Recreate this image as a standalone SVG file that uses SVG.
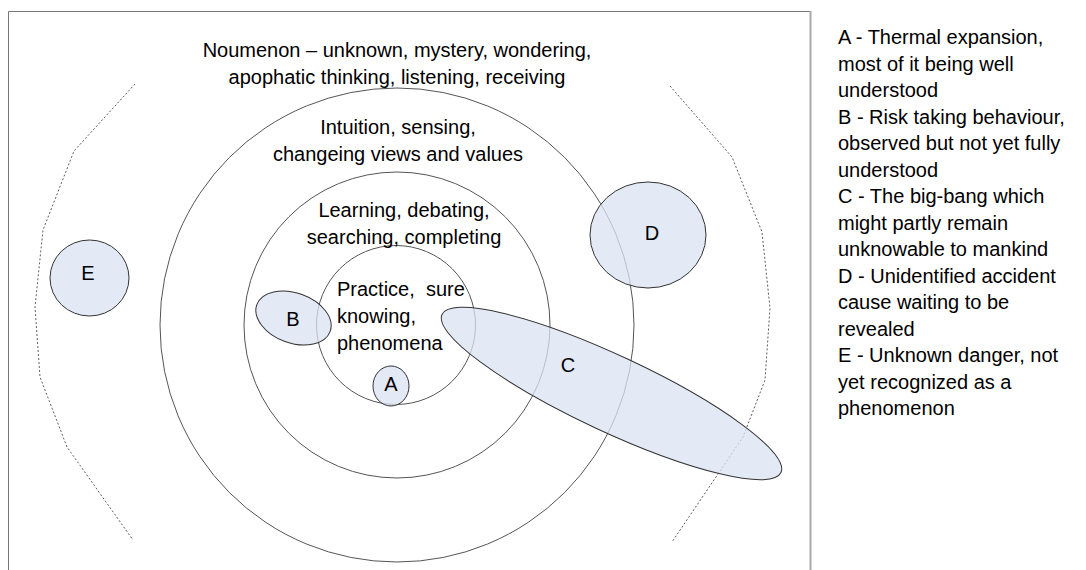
<svg xmlns="http://www.w3.org/2000/svg" width="1086" height="570" viewBox="0 0 1086 570">
<style>
text{font-family:"Liberation Sans",Arial,sans-serif;font-size:20px;fill:#000}
.mid{text-anchor:middle}
.ring{fill:none;stroke:#555;stroke-width:1}
.dash{fill:none;stroke:#333;stroke-width:0.8;stroke-dasharray:2 2}
.blob{fill:#d9e2f2;fill-opacity:0.75;stroke:#333;stroke-width:1}
</style>
<rect width="1086" height="570" fill="#fff"/>
<g id="frame">
<path d="M8.5,570 V11.5 H810" fill="none" stroke="#777" stroke-width="1"/>
<line x1="810.5" y1="11" x2="810.5" y2="570" stroke="#aaa" stroke-width="2"/>
</g>
<g id="rings">
<circle class="ring" cx="397" cy="325" r="237"/>
<circle class="ring" cx="397" cy="325" r="153"/>
<circle class="ring" cx="396" cy="325" r="79.5"/>
</g>
<g id="horizon">
<polyline class="dash" points="135,84 74,151 43,230 35,307 40,377 67,447 133,540"/>
<polyline class="dash" points="670,86 732,157 762,232 770,308 765,380 743,437 672,542"/>
</g>
<g id="zone-labels">
<text class="mid" x="397" y="57">Noumenon – unknown, mystery, wondering,</text>
<text class="mid" x="397" y="84">apophatic thinking, listening, receiving</text>
<text class="mid" x="398" y="134">Intuition, sensing,</text>
<text class="mid" x="398" y="161">changeing views and values</text>
<text class="mid" x="404" y="217">Learning, debating,</text>
<text class="mid" x="404" y="244">searching, completing</text>
<text x="337" y="296" xml:space="preserve">Practice,  sure</text>
<text x="337" y="323">knowing,</text>
<text x="337" y="350">phenomena</text>
</g>
<g id="node-C"><ellipse class="blob" cx="611.5" cy="393.5" rx="187" ry="38" transform="rotate(25 611.5 393.5)"/><text class="mid" x="568" y="372">C</text></g>
<g id="node-D"><ellipse class="blob" cx="648" cy="235" rx="58" ry="53"/><text class="mid" x="652" y="240">D</text></g>
<g id="node-E"><ellipse class="blob" cx="89.5" cy="278" rx="39.5" ry="38"/><text class="mid" x="88" y="280">E</text></g>
<g id="node-B"><ellipse class="blob" cx="293.5" cy="318" rx="39" ry="25" transform="rotate(20 293.5 318)"/><text class="mid" x="293" y="325.5">B</text></g>
<g id="node-A"><ellipse class="blob" cx="391" cy="386" rx="18" ry="20"/><text class="mid" x="391" y="390.5">A</text></g>
<g id="connectors"></g>
<g id="legend">
<text x="838" y="44">A - Thermal expansion,</text>
<text x="838" y="70.5">most of it being well</text>
<text x="838" y="97">understood</text>
<text x="838" y="123.5">B - Risk taking behaviour,</text>
<text x="838" y="150">observed but not yet fully</text>
<text x="838" y="176.5">understood</text>
<text x="838" y="203">C - The big-bang which</text>
<text x="838" y="229.5">might partly remain</text>
<text x="838" y="256">unknowable to mankind</text>
<text x="838" y="282.5">D - Unidentified accident</text>
<text x="838" y="309">cause waiting to be</text>
<text x="838" y="335.5">revealed</text>
<text x="838" y="362">E - Unknown danger, not</text>
<text x="838" y="388.5">yet recognized as a</text>
<text x="838" y="415">phenomenon</text>
</g>
</svg>
